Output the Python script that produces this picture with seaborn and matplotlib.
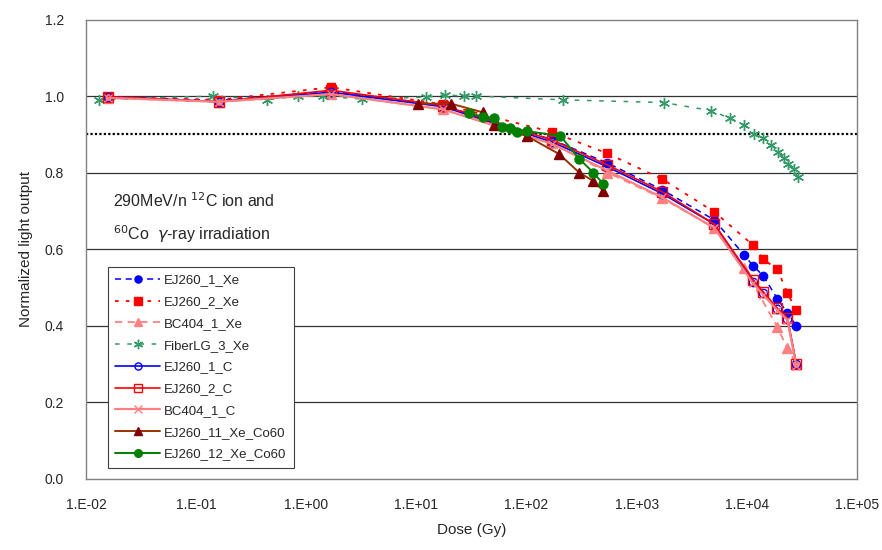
import numpy as np
import pandas as pd
import matplotlib
matplotlib.use("Agg")
import matplotlib.pyplot as plt
from matplotlib.ticker import FixedLocator, FuncFormatter, NullLocator
import seaborn as sns

# ---- data ----
dose_xe1 = [0.016, 0.16, 1.68, 17.5, 170, 540, 1700, 5060, 9470, 11400, 14100, 18900, 23300, 28100]
ej260_1_xe = [0.998, 0.988, 1.012, 0.975, 0.886, 0.825, 0.755, 0.676, 0.584, 0.556, 0.530, 0.470, 0.433, 0.400]

dose_xe2 = [0.016, 0.16, 1.68, 17.5, 170, 540, 1700, 5060, 11400, 14100, 18900, 23300, 28100]
ej260_2_xe = [0.998, 0.990, 1.023, 0.978, 0.906, 0.850, 0.783, 0.697, 0.610, 0.573, 0.547, 0.485, 0.440]

dose_bc_xe = [0.016, 0.16, 1.68, 17.5, 170, 540, 1700, 5060, 9470, 18900, 23300, 28100]
bc404_1_xe = [0.995, 0.985, 1.005, 0.965, 0.877, 0.800, 0.733, 0.655, 0.550, 0.396, 0.340, 0.300]

dose_fiber = [0.0131, 0.143, 0.44, 0.84, 1.42, 3.2, 12.3, 18.3, 26.8, 35.0, 213, 1750, 4700,
              7000, 9470, 11600, 14100, 16700, 19300, 21500, 23800, 26500, 28900]
fiberlg_3_xe = [0.990, 1.000, 0.990, 1.000, 1.000, 0.992, 0.997, 1.003, 1.000, 1.000, 0.990, 0.983,
                0.962, 0.942, 0.924, 0.900, 0.890, 0.872, 0.853, 0.837, 0.822, 0.808, 0.789]

dose_c = [0.016, 0.16, 1.68, 17.5, 170, 540, 1700, 5060, 11400, 14100, 18900, 23300, 28100]
ej260_1_c = [0.998, 0.985, 1.010, 0.972, 0.880, 0.815, 0.745, 0.665, 0.514, 0.485, 0.443, 0.417, 0.300]
ej260_2_c = [0.998, 0.985, 1.015, 0.975, 0.885, 0.820, 0.750, 0.665, 0.520, 0.488, 0.445, 0.420, 0.300]
bc404_1_c = [0.995, 0.985, 1.005, 0.965, 0.875, 0.805, 0.735, 0.655, 0.510, 0.480, 0.440, 0.415, 0.295]

dose_co11 = [10.4, 20.6, 40.4, 50.8, 101, 198, 300, 403, 497]
ej260_11_co60 = [0.980, 0.980, 0.957, 0.925, 0.895, 0.848, 0.800, 0.778, 0.752]

dose_co12 = [30.1, 40.4, 50.8, 60, 71, 82, 101, 202, 300, 403, 497]
ej260_12_co60 = [0.955, 0.946, 0.943, 0.920, 0.917, 0.905, 0.908, 0.896, 0.836, 0.800, 0.770]

threshold = 0.9
x_ticks = [1e-2, 1e-1, 1e0, 1e1, 1e2, 1e3, 1e4, 1e5]
y_ticks = [0.0, 0.2, 0.4, 0.6, 0.8, 1.0, 1.2]

# (label, dose, values, color, line style, marker, face, edge, line width, marker size)
series = [
    ("EJ260_1_Xe", dose_xe1, ej260_1_xe, "#0000FF", (0, (4, 3)), "o", "#0000FF", "#0000FF", 1.1, 6),
    ("EJ260_2_Xe", dose_xe2, ej260_2_xe, "#FF0000", (0, (2, 4)), "s", "#FF0000", "#FF0000", 1.3, 6),
    ("BC404_1_Xe", dose_bc_xe, bc404_1_xe, "#FF8080", (0, (4, 3)), "^", "#FF8080", "#FF8080", 1.3, 7),
    ("FiberLG_3_Xe", dose_fiber, fiberlg_3_xe, "#339966", (0, (3, 5)), (6, 2, 0), "#339966", "#339966", 1.1, 8),
    ("EJ260_1_C", dose_c, ej260_1_c, "#0000FF", "-", "o", "none", "#0000FF", 1.2, 6),
    ("EJ260_2_C", dose_c, ej260_2_c, "#FF0000", "-", "s", "none", "#FF0000", 1.2, 7),
    ("BC404_1_C", dose_c, bc404_1_c, "#FF8080", "-", "x", "#FF8080", "#FF8080", 1.6, 6),
    ("EJ260_11_Xe_Co60", dose_co11, ej260_11_co60, "#993300", "-", "^", "#800000", "#800000", 1.4, 6.5),
    ("EJ260_12_Xe_Co60", dose_co12, ej260_12_co60, "#008000", "-", "o", "#008000", "#008000", 1.4, 6.5),
]

sns.set_style("white")
plt.rcParams["font.family"] = ["Liberation Sans", "DejaVu Sans"]

fig = plt.figure(figsize=(8.82, 5.5), dpi=100)
ax = fig.add_axes([0.0975, 0.13, 0.8742, 0.8345])

# horizontal grid and 0.9 threshold
for yv in y_ticks[1:-1]:
    ax.axhline(yv, color="#333333", lw=0.9, zorder=0)
ax.axhline(threshold, color="black", lw=1.6, ls=(0, (1, 1)), zorder=1)

handles = []
for label, dose, vals, col, ls, mk, mfc, mec, lw, ms in series:
    df = pd.DataFrame({"dose": dose, "value": vals})
    sns.lineplot(data=df, x="dose", y="value", ax=ax, color=col, linestyle=ls,
                 marker=mk, markerfacecolor=mfc, markeredgecolor=mec,
                 markeredgewidth=1.0, markersize=ms, linewidth=lw,
                 sort=False, estimator=None, label=label, legend=False)
    handles.append(ax.lines[-1])

ax.set_xscale("log")
ax.set_xlim(1e-2, 1e5)
ax.set_ylim(0, 1.2)
ax.xaxis.set_major_locator(FixedLocator(x_ticks))
ax.xaxis.set_minor_locator(NullLocator())
ax.xaxis.set_major_formatter(FuncFormatter(lambda v, p: f"1.E{int(round(np.log10(v))):+03d}"))
ax.yaxis.set_major_locator(FixedLocator(y_ticks))
ax.yaxis.set_major_formatter(FuncFormatter(lambda v, p: f"{v:.1f}"))
ax.tick_params(axis="x", direction="in", length=5, width=0.8, color="#808080", pad=14, labelsize=10)
ax.tick_params(axis="y", direction="out", length=0, pad=16, labelsize=10)
for sp in ax.spines.values():
    sp.set_color("#808080")
    sp.set_linewidth(1.0)

ax.set_xlabel("Dose (Gy)", fontsize=11, labelpad=8)
ax.set_ylabel("Normalized light output", fontsize=11, labelpad=8)

ax.text(0.035, 0.605, "290MeV/n $^{12}$C ion and", transform=ax.transAxes,
        fontsize=11.5, va="center", ha="left")
ax.text(0.035, 0.533, "$^{60}$Co  $\\gamma$-ray irradiation", transform=ax.transAxes,
        fontsize=11.5, va="center", ha="left")

leg = ax.legend(handles=handles, labels=[s[0] for s in series], loc="upper left",
                bbox_to_anchor=(108 / 882, 1 - 267 / 550), bbox_transform=fig.transFigure,
                borderaxespad=0, fontsize=9.5, labelspacing=0.72, handlelength=3.4,
                handletextpad=0.3, borderpad=0.55, frameon=True, fancybox=False,
                framealpha=1, edgecolor="#404040", markerscale=0.85)
leg.get_frame().set_linewidth(0.8)

fig.savefig("out.png", dpi=100)
